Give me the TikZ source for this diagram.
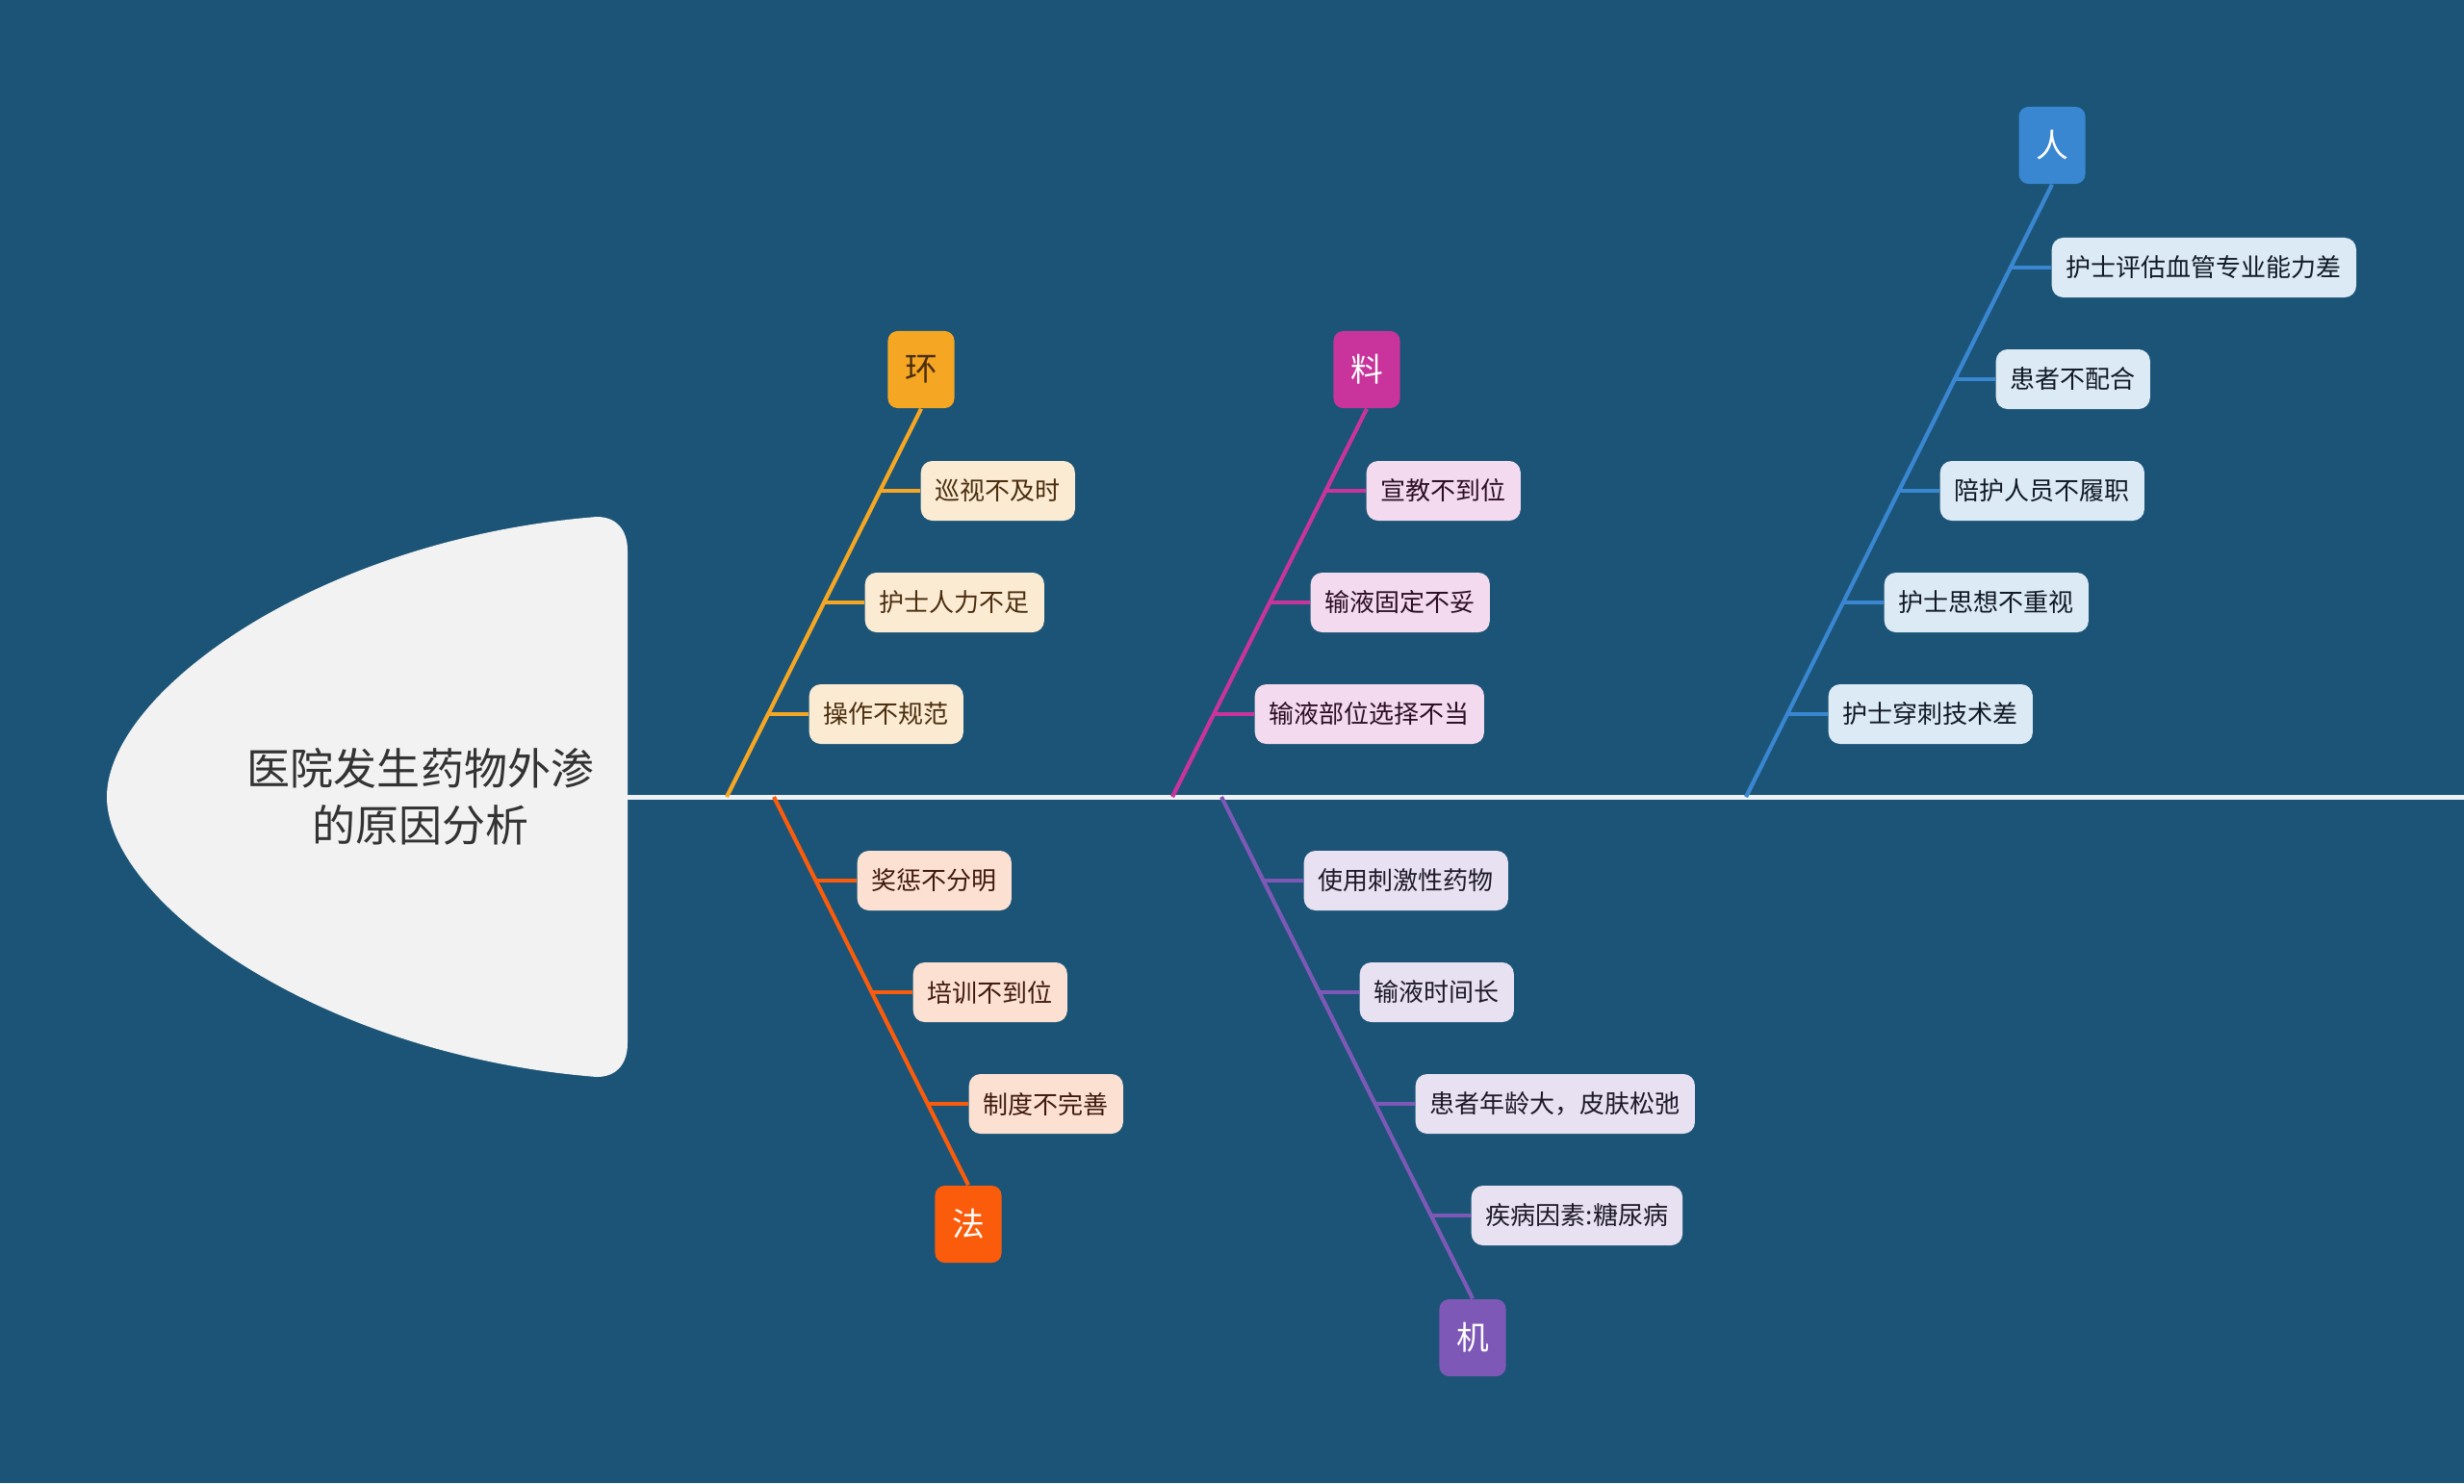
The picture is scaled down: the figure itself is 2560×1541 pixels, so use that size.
\documentclass[tikz,border=0pt]{standalone}
\usepackage{fontspec}
\setmainfont{Noto Sans CJK SC}
\usetikzlibrary{calc}
\definecolor{bg}{HTML}{1B5476}
\definecolor{headfill}{HTML}{F2F2F2}
\definecolor{headtext}{HTML}{333333}
\definecolor{spinec}{HTML}{EEF2F5}
\definecolor{hcol}{HTML}{F5A623}\definecolor{hleaf}{HTML}{FCEBD3}\definecolor{htxt}{HTML}{4A2E0E}
\definecolor{fcol}{HTML}{FA5C0C}\definecolor{fleaf}{HTML}{FCE1D3}\definecolor{ftxt}{HTML}{3F1A0C}
\definecolor{lcol}{HTML}{C8349C}\definecolor{lleaf}{HTML}{F3DAEE}\definecolor{ltxt}{HTML}{2C0F26}
\definecolor{jcol}{HTML}{7E58B6}\definecolor{jleaf}{HTML}{E7E1F1}\definecolor{jtxt}{HTML}{1E1A2A}
\definecolor{rcol}{HTML}{3A87D1}\definecolor{rleaf}{HTML}{DCEAF6}\definecolor{rtxt}{HTML}{111A26}
\begin{document}
\begin{tikzpicture}[x=0.01cm,y=-0.01cm,
  leaf/.style={rounded corners=0.12cm, minimum height=0.62cm, inner xsep=0.15cm, inner ysep=0pt,
    font=\fontsize{7.4}{9}\selectfont, anchor=west},
  catbox/.style={rounded corners=0.1cm, minimum width=0.69cm, minimum height=0.8cm, inner sep=0pt,
    font=\fontsize{9.6}{11}\selectfont},
  bone/.style={line width=0.042cm},
  twig/.style={line width=0.038cm}]
\fill[bg] (0,0) rectangle (2560,1541);
\useasboundingbox (0,0) rectangle (2560,1541);
% head
\fill[headfill] (111,828) .. controls (111,720) and (330,560) .. (620,537)
  .. controls (640,537) and (652,550) .. (652,572) -- (652,1084)
  .. controls (652,1106) and (640,1119) .. (620,1119)
  .. controls (330,1096) and (111,936) .. (111,828) -- cycle;
\node[align=center, text=headtext, font=\fontsize{12.8}{16.8}\selectfont] (title) at (437,828) {医院发生药物外渗\\的原因分析};
% spine
\coordinate (s0) at (652,828);
\coordinate (s1) at (2560,828);
\draw[spinec, line width=0.05cm] (s0) -- (s1);
% junctions
\coordinate (jh) at (755,828);
\coordinate (jf) at (804,828);
\coordinate (jl) at (1218,828);
\coordinate (jj) at (1269,828);
\coordinate (jr) at (1814,828);
% category boxes
\node[catbox, fill=hcol, text=htxt] (huan) at (957,384) {环};
\node[catbox, fill=fcol, text=white] (fa) at (1006,1272) {法};
\node[catbox, fill=lcol, text=white] (liao) at (1420,384) {料};
\node[catbox, fill=jcol, text=white] (ji) at (1530,1390) {机};
\node[catbox, fill=rcol, text=white] (ren) at (2132,151) {人};
% bones
\draw[bone, hcol] (jh) -- (huan.south);
\draw[bone, fcol] (jf) -- (fa.north);
\draw[bone, lcol] (jl) -- (liao.south);
\draw[bone, jcol] (jj) -- (ji.north);
\draw[bone, rcol] (jr) -- (ren.south);
% 环 leaves
\coordinate (h1) at (914,510); \node[leaf, fill=hleaf, text=htxt] (hl1) at (956,510) {巡视不及时};
\coordinate (h2) at (856,626); \node[leaf, fill=hleaf, text=htxt] (hl2) at (898,626) {护士人力不足};
\coordinate (h3) at (798,742); \node[leaf, fill=hleaf, text=htxt] (hl3) at (840,742) {操作不规范};
\draw[twig, hcol] (h1) -- (hl1.west) (h2) -- (hl2.west) (h3) -- (hl3.west);
% 法 leaves
\coordinate (f1) at (847,915); \node[leaf, fill=fleaf, text=ftxt] (fl1) at (890,915) {奖惩不分明};
\coordinate (f2) at (905,1031); \node[leaf, fill=fleaf, text=ftxt] (fl2) at (948,1031) {培训不到位};
\coordinate (f3) at (963,1147); \node[leaf, fill=fleaf, text=ftxt] (fl3) at (1006,1147) {制度不完善};
\draw[twig, fcol] (f1) -- (fl1.west) (f2) -- (fl2.west) (f3) -- (fl3.west);
% 料 leaves
\coordinate (l1) at (1377,510); \node[leaf, fill=lleaf, text=ltxt] (ll1) at (1419,510) {宣教不到位};
\coordinate (l2) at (1319,626); \node[leaf, fill=lleaf, text=ltxt] (ll2) at (1361,626) {输液固定不妥};
\coordinate (l3) at (1261,742); \node[leaf, fill=lleaf, text=ltxt] (ll3) at (1303,742) {输液部位选择不当};
\draw[twig, lcol] (l1) -- (ll1.west) (l2) -- (ll2.west) (l3) -- (ll3.west);
% 机 leaves
\coordinate (j1) at (1312,915); \node[leaf, fill=jleaf, text=jtxt] (jl1) at (1354,915) {使用刺激性药物};
\coordinate (j2) at (1370,1031); \node[leaf, fill=jleaf, text=jtxt] (jl2) at (1412,1031) {输液时间长};
\coordinate (j3) at (1428,1147); \node[leaf, fill=jleaf, text=jtxt] (jl3) at (1470,1147) {患者年龄大，皮肤松弛};
\coordinate (j4) at (1486,1263); \node[leaf, fill=jleaf, text=jtxt] (jl4) at (1528,1263) {疾病因素:糖尿病};
\draw[twig, jcol] (j1) -- (jl1.west) (j2) -- (jl2.west) (j3) -- (jl3.west) (j4) -- (jl4.west);
% 人 leaves
\coordinate (r1) at (2089,278); \node[leaf, fill=rleaf, text=rtxt] (rl1) at (2131,278) {护士评估血管专业能力差};
\coordinate (r2) at (2031,394); \node[leaf, fill=rleaf, text=rtxt] (rl2) at (2073,394) {患者不配合};
\coordinate (r3) at (1973,510); \node[leaf, fill=rleaf, text=rtxt] (rl3) at (2015,510) {陪护人员不履职};
\coordinate (r4) at (1915,626); \node[leaf, fill=rleaf, text=rtxt] (rl4) at (1957,626) {护士思想不重视};
\coordinate (r5) at (1857,742); \node[leaf, fill=rleaf, text=rtxt] (rl5) at (1899,742) {护士穿刺技术差};
\draw[twig, rcol] (r1) -- (rl1.west) (r2) -- (rl2.west) (r3) -- (rl3.west) (r4) -- (rl4.west) (r5) -- (rl5.west);
\end{tikzpicture}
\end{document}
